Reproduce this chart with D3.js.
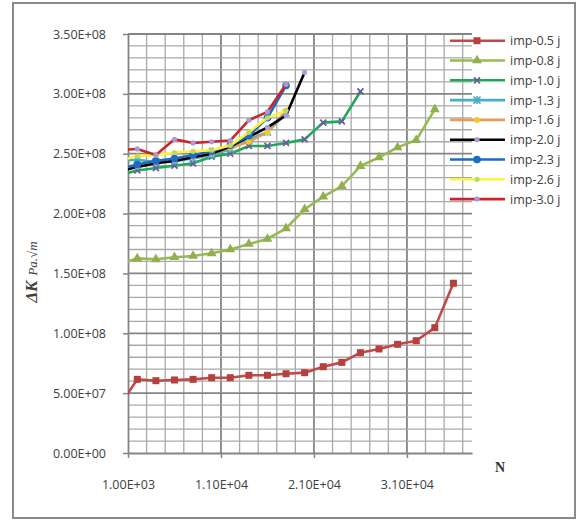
<!DOCTYPE html>
<html><head><meta charset="utf-8">
<script src="https://cdn.jsdelivr.net/npm/d3@7"></script>
<style>body{margin:0;background:#fff}svg{display:block}</style>
</head><body><svg id="c" width="579" height="521"></svg>
<script>
// ---- data ----
const cycles = [0,2000,4000,6000,8000,10000,12000,14000,16000,18000,20000,22000,24000,26000,28000,30000,32000,34000,36000];
const seriesNames = ["imp-0.5 j","imp-0.8 j","imp-1.0 j","imp-1.3 j","imp-1.6 j","imp-2.0 j","imp-2.3 j","imp-2.6 j","imp-3.0 j"];
const imp05 = [3.85e7,6.15e7,6.04e7,6.1e7,6.15e7,6.29e7,6.29e7,6.49e7,6.49e7,6.62e7,6.71e7,7.21e7,7.57e7,8.38e7,8.69e7,9.08e7,9.38e7,1.047e8,1.418e8];
const imp08 = [1.575e8,1.626e8,1.618e8,1.635e8,1.646e8,1.668e8,1.70e8,1.746e8,1.788e8,1.877e8,2.036e8,2.141e8,2.23e8,2.397e8,2.47e8,2.553e8,2.614e8,2.871e8];
const imp10 = [2.32e8,2.36e8,2.38e8,2.40e8,2.42e8,2.475e8,2.50e8,2.565e8,2.565e8,2.59e8,2.62e8,2.76e8,2.77e8,3.02e8];
const imp13 = [2.44e8,2.45e8,2.43e8,2.44e8,2.46e8,2.49e8,2.54e8,2.62e8,2.68e8,2.84e8];
const imp16 = [2.36e8,2.40e8,2.43e8,2.45e8,2.47e8,2.50e8,2.55e8,2.60e8,2.68e8,2.86e8];
const imp20 = [2.35e8,2.39e8,2.42e8,2.44e8,2.47e8,2.50e8,2.56e8,2.64e8,2.72e8,2.82e8,3.18e8];
const imp23 = [2.37e8,2.41e8,2.44e8,2.46e8,2.49e8,2.52e8,2.57e8,2.65e8,2.80e8,3.07e8];
const imp26 = [2.44e8,2.48e8,2.49e8,2.51e8,2.52e8,2.53e8,2.57e8,2.68e8,2.80e8,2.86e8];
const imp30 = [2.53e8,2.54e8,2.49e8,2.62e8,2.59e8,2.60e8,2.61e8,2.78e8,2.85e8,3.08e8];
const yTickValues = [0,5e7,1e8,1.5e8,2e8,2.5e8,3e8,3.5e8];
const xTickValues = [1000,11000,21000,31000];

const allValues = [imp05,imp08,imp10,imp13,imp16,imp20,imp23,imp26,imp30];
const lineColors = ["#BE4B48","#98B954","#1FA85A","#4BACC6","#E39B5A","#000000","#1C6DBF","#FFF23A","#C9252C"];
const markerTypes = ["square","triangle","x","star","circle","dot","bigcircle","dot","dot"];
const markerColors = ["#B5403D","#8FB04A","#6B5A9E","#4BACC6","#F2C832","#9DA6DC","#1C6DBF","#C3D85E","#A99AD4"];

// ---- chart ----
const svg = d3.select("#c");
svg.append("rect").attr("width",579).attr("height",521).attr("fill","#fff");
svg.append("rect").attr("x",13).attr("y",3).attr("width",562).attr("height",515)
  .attr("fill","none").attr("stroke","#8a8a8a").attr("stroke-width",2);

const L=128, R=472, T=34, B=453;
const x = d3.scaleLinear().domain([1000,38000]).range([L,R]);
const y = d3.scaleLinear().domain([0,3.5e8]).range([B,T]);

// grid
const grid = svg.append("g");
const vLines = d3.range(3000,38000,2000);
grid.selectAll("line.v").data(vLines).enter().append("line")
  .attr("x1",d=>x(d)).attr("x2",d=>x(d)).attr("y1",T).attr("y2",B)
  .attr("stroke",d=>(d-1000)%10000===0?"#858585":"#a9a9a9")
  .attr("stroke-width",d=>(d-1000)%10000===0?1.8:1.3);
const hLines = d3.range(1,36).map(i=>i*1e7);
grid.selectAll("line.h").data(hLines).enter().append("line")
  .attr("x1",L).attr("x2",R).attr("y1",d=>y(d)).attr("y2",d=>y(d))
  .attr("stroke",d=>Math.round(d/1e7)%5===0?"#858585":"#a9a9a9")
  .attr("stroke-width",d=>Math.round(d/1e7)%5===0?1.8:1.3);

function fmtE(v){
  if(v===0) return "0.00E+00";
  const e=Math.floor(Math.log10(v)); const m=v/Math.pow(10,e);
  return m.toFixed(2)+"E+"+String(e).padStart(2,"0");
}
const font = "'Open Sans', 'Liberation Sans', sans-serif";
const yAxis = svg.append("g").attr("transform",`translate(${L},0)`)
  .call(d3.axisLeft(y).tickValues(yTickValues).tickFormat(fmtE).tickSize(5).tickPadding(17).tickSizeOuter(0));
const xAxis = svg.append("g").attr("transform",`translate(0,${B})`)
  .call(d3.axisBottom(x).tickValues(xTickValues).tickFormat(fmtE).tickSize(5).tickPadding(22).tickSizeOuter(0));
[yAxis,xAxis].forEach(a=>{
  a.select(".domain").attr("stroke","#858585").attr("stroke-width",1.8);
  a.selectAll(".tick line").attr("stroke","#858585").attr("stroke-width",1.5);
  a.selectAll(".tick text").attr("font-family",font).attr("font-size",12.5).attr("fill","#404040");
});

// axis titles
const yt = svg.append("text").attr("transform","translate(37,272) rotate(-90)")
  .attr("text-anchor","middle").attr("font-family","'Liberation Serif','DejaVu Serif',serif").attr("fill","#404040");
yt.append("tspan").attr("font-size",17).attr("font-weight","bold").attr("font-style","italic").text("ΔK");
yt.append("tspan").attr("font-size",13).attr("font-style","italic").attr("dx",5).text("Pa.√m");
svg.append("text").attr("x",500).attr("y",472).attr("text-anchor","middle")
  .attr("font-family","'Liberation Serif',serif").attr("font-weight","bold").attr("font-size",14).attr("fill","#333").text("N");

// markers
function marker(g,type,color,cx,cy){
  if(type==="square") g.append("rect").attr("x",cx-3.5).attr("y",cy-3.5).attr("width",7).attr("height",7).attr("fill",color);
  else if(type==="triangle") g.append("path").attr("d",d3.symbol(d3.symbolTriangle,42)()).attr("transform",`translate(${cx},${cy})`).attr("fill",color);
  else if(type==="x"){
    g.append("path").attr("d",`M${cx-3},${cy-3}L${cx+3},${cy+3}M${cx-3},${cy+3}L${cx+3},${cy-3}`).attr("stroke",color).attr("stroke-width",1.8);
  } else if(type==="star"){
    g.append("path").attr("d",`M${cx-3.5},${cy-3.5}L${cx+3.5},${cy+3.5}M${cx-3.5},${cy+3.5}L${cx+3.5},${cy-3.5}M${cx},${cy-4}L${cx},${cy+4}`).attr("stroke",color).attr("stroke-width",1.6);
  } else if(type==="circle") g.append("circle").attr("cx",cx).attr("cy",cy).attr("r",3).attr("fill",color);
  else if(type==="bigcircle") g.append("circle").attr("cx",cx).attr("cy",cy).attr("r",3.8).attr("fill",color);
  else g.append("circle").attr("cx",cx).attr("cy",cy).attr("r",2.6).attr("fill",color);
}

svg.append("clipPath").attr("id","clip").append("rect").attr("x",L).attr("y",0).attr("width",579-L).attr("height",521);
const plot = svg.append("g").attr("clip-path","url(#clip)");
const line = d3.line().x(d=>x(d[0])).y(d=>y(d[1]));
allValues.forEach((vals,i)=>{
  const pts = vals.map((v,j)=>[cycles[j],v]);
  const g = plot.append("g");
  g.append("path").attr("d",line(pts)).attr("fill","none").attr("stroke",lineColors[i])
    .attr("stroke-width",2.6).attr("stroke-linejoin","round");
  pts.forEach(p=>marker(g,markerTypes[i],markerColors[i],x(p[0]),y(p[1])));
});

// legend
const lg = svg.append("g");
seriesNames.forEach((n,i)=>{
  const yy = 40.7 + i*19.8;
  lg.append("line").attr("x1",450).attr("x2",505).attr("y1",yy).attr("y2",yy).attr("stroke",lineColors[i]).attr("stroke-width",2.6);
  marker(lg,markerTypes[i],markerColors[i],477,yy);
  lg.append("text").attr("x",510).attr("y",yy+4.4).attr("font-family",font).attr("font-size",12.5).attr("fill","#404040").text(n);
});
</script></body></html>
